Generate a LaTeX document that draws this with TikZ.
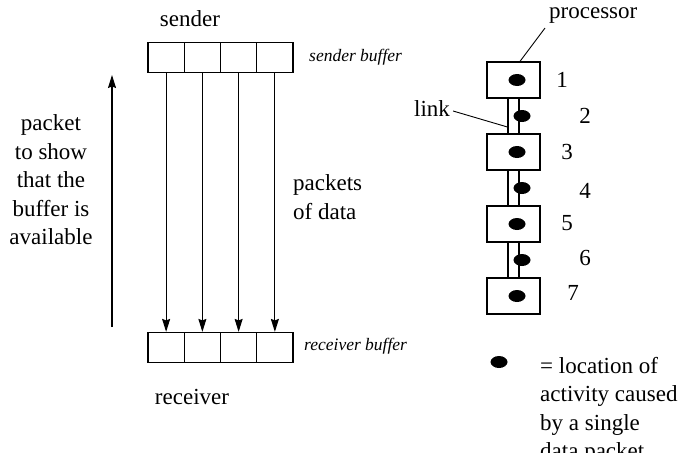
\documentclass[tikz,border=0pt]{standalone}
\usepackage{fontspec}
\setmainfont{Liberation Serif}
\usetikzlibrary{arrows.meta,shapes.geometric}

\begin{document}
\begin{tikzpicture}[
  x=1pt, y=-1pt,
  font=\fontsize{23}{28.5}\selectfont,
  arr/.style={-{Stealth[length=13pt, width=8pt, inset=1.5pt]}, line width=1.1pt},
  lbl/.style={inner sep=0pt},
  buf/.style={inner sep=0pt, font=\fontsize{17.5}{21}\selectfont\itshape},
  cell/.style={draw, line width=1.2pt, inner sep=0pt,
    minimum width=36.25, minimum height=30},
  proc/.style={draw, line width=1.2pt, inner sep=0pt,
    minimum width=53, minimum height=36},
  link/.style={draw, line width=1.2pt, inner sep=0pt,
    minimum width=11, minimum height=36},
  dot/.style={ellipse, fill=black, inner sep=0pt,
    minimum width=17, minimum height=12}
]
\useasboundingbox (0,0) rectangle (687,452);

% -------------------------------------------------
% Column x-positions
% -------------------------------------------------
\def\xB{148}
\def\xP{513.5}

% -------------------------------------------------
% BUFFERS
% -------------------------------------------------
\foreach \i in {1,...,4}{
  \node[cell] (sb\i) at (\xB+36.25*\i-18.125,57.5) {};
  \node[cell] (rb\i) at (\xB+36.25*\i-18.125,347.5) {};
}

\node[lbl] (snd) at (190,19) {sender};
\node[lbl] (rcv) at (192,397) {receiver};
\node[buf, anchor=west] (sbl) at (309,57) {sender buffer};
\node[buf, anchor=west] (rbl) at (304,346) {receiver buffer};

% -------------------------------------------------
% LABELS (left side)
% -------------------------------------------------
\node[lbl, align=center] (ack) at (51,180)
  {packet\\to show\\that the\\buffer is\\available};
\node[lbl, align=left, anchor=west] (pkts) at (293,197) {packets\\of data};

\coordinate (ackfoot) at (112,327);
\coordinate (acktip) at (112,75);

% -------------------------------------------------
% PROCESSORS AND LINKS (right side)
% -------------------------------------------------
\foreach \n/\y in {2/116,4/188,6/260}
  \node[link] (l\n) at (\xP,\y) {};
\foreach \n/\y in {1/80,3/152,5/224,7/296}
  \node[proc, fill=white] (p\n) at (\xP,\y) {};

\foreach \n in {1,3,5,7}
  \node[dot] (d\n) at ([xshift=3.5pt]p\n.center) {};
\foreach \n in {2,4,6}
  \node[dot] (d\n) at ([xshift=8.5pt]l\n.center) {};

\foreach \n/\x/\y in {1/562/80, 2/585/116, 3/567/152, 4/585/191,
                      5/567/223, 6/585/258, 7/573/293}
  \node[lbl] (n\n) at (\x,\y) {\n};

\node[lbl, anchor=west] (prc) at (549,16) {processor};
\node[lbl] (lnk) at (432,109) {link};

% -------------------------------------------------
% LEGEND
% -------------------------------------------------
\node[dot] (dkey) at (499,362) {};
\node[lbl, align=left, anchor=north west] (key) at (540,357)
  {= location of\\activity caused\\by a single\\data packet};

% -------------------------------------------------
% ARROWS
% -------------------------------------------------
\foreach \i in {1,...,4}
  \draw[arr] (sb\i) -- (rb\i);
\draw[arr] (ackfoot) -- (acktip);

\draw[line width=0.9pt] ([shift={(-4,4)}]prc.south west) -- ([xshift=6.5pt]p1.north);
\draw[line width=0.9pt] ([shift={(3,2)}]lnk.east) -- ([yshift=-11pt]l2.west);

\end{tikzpicture}
\end{document}
